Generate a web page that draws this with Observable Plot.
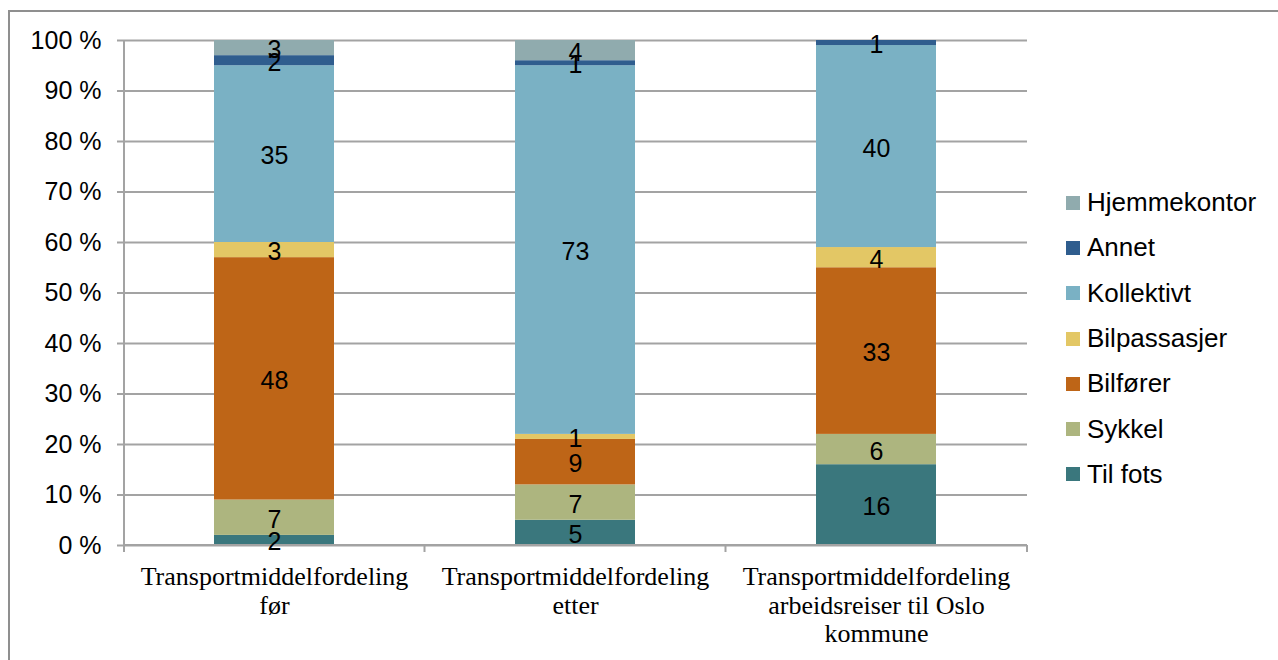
<!DOCTYPE html>
<html>
<head>
<meta charset="utf-8">
<script src="https://cdn.jsdelivr.net/npm/d3@7"></script>
<script src="https://cdn.jsdelivr.net/npm/@observablehq/plot@0.6"></script>
<style>
  html, body { margin: 0; padding: 0; background: #fff; }
  #wrap { position: relative; width: 1278px; height: 660px; overflow: hidden; background: #fff; }
  #border { position: absolute; left: 8px; top: 10px; width: 1400px; height: 800px; border: 2px solid #8f8f8f; box-sizing: border-box; }
  #chart { position: absolute; left: 0; top: 0; }
  #legend { position: absolute; left: 1066px; top: 180px; font-family: "Liberation Sans", Arial, sans-serif; font-size: 26px; color: #000; }
  #legend .row { display: flex; align-items: center; height: 45.3px; }
  #legend .sw { width: 14px; height: 14px; margin-right: 7px; }
</style>
</head>
<body>
<div id="wrap">
  <div id="border"></div>
  <div id="chart"></div>
  <div id="legend"></div>
</div>
<script>
// Categories (one stacked bar each)
const categories = [
  "Transportmiddelfordeling\nfør",
  "Transportmiddelfordeling\netter",
  "Transportmiddelfordeling\narbeidsreiser til Oslo\nkommune"
];

// Stack order, bottom to top
const seriesNames = ["Til fots", "Sykkel", "Bilfører", "Bilpassasjer", "Kollektivt", "Annet", "Hjemmekontor"];
const seriesColors = ["#3a777d", "#adb57f", "#be6517", "#e3c765", "#7ab1c4", "#2f5d8e", "#90abae"];

// Share (%) per category, one array per series
const tilFots      = [2, 5, 16];
const sykkel       = [7, 7, 6];
const bilforer     = [48, 9, 33];
const bilpassasjer = [3, 1, 4];
const kollektivt   = [35, 73, 40];
const annet        = [2, 1, 1];
const hjemmekontor = [3, 4, 0];

const yTicks = [0, 10, 20, 30, 40, 50, 60, 70, 80, 90, 100];

const seriesValues = [tilFots, sykkel, bilforer, bilpassasjer, kollektivt, annet, hjemmekontor];
const rows = seriesNames.flatMap((s, i) =>
  categories.map((c, j) => ({category: c, series: s, value: seriesValues[i][j]}))
);

const gridColor = "#a3a3a3";

// Axis lines: left axis, baseline and category separator ticks
function axisLines(index, scales, values, dim) {
  const x = scales.x;
  const l = dim.marginLeft, r = dim.width - dim.marginRight;
  const t = dim.marginTop, b = dim.height - dim.marginBottom;
  const bw = typeof x.bandwidth === "function" ? x.bandwidth() : (x.bandwidth ?? 0);
  const inner = d3.pairs(categories).map(([a, c]) => (x(a) + x(c) + bw) / 2);
  const bounds = [l, ...inner, r];
  const g = d3.create("svg:g").attr("stroke", gridColor).attr("stroke-width", 2).attr("fill", "none");
  g.append("line").attr("x1", l).attr("x2", l).attr("y1", t).attr("y2", b + 7);
  g.append("line").attr("x1", l).attr("x2", r).attr("y1", b).attr("y2", b);
  for (const bx of bounds) {
    g.append("line").attr("x1", bx).attr("x2", bx).attr("y1", b).attr("y2", b + 7);
  }
  return g.node();
}

const chart = Plot.plot({
  width: 1040,
  height: 660,
  marginLeft: 124,
  marginRight: 13,
  marginTop: 40,
  marginBottom: 115,
  style: {fontFamily: "'Liberation Sans', Arial, sans-serif", fontSize: "25px", color: "#000", background: "transparent"},
  x: {domain: categories, paddingInner: 0.6, paddingOuter: 0.3, axis: null},
  y: {domain: [0, 100], axis: null},
  color: {domain: seriesNames, range: seriesColors},
  marks: [
    Plot.ruleY(yTicks, {stroke: gridColor, strokeWidth: 2}),
    Plot.axisY({
      ticks: yTicks,
      tickSize: 7,
      tickPadding: 16,
      tickFormat: d => `${d} %`,
      stroke: gridColor,
      strokeWidth: 2,
      strokeOpacity: 1,
      fontSize: 25,
      label: null
    }),
    Plot.barY(rows, Plot.stackY({x: "category", y: "value", z: "series", fill: "series", order: seriesNames})),
    axisLines,
    Plot.text(rows.filter(d => d.value > 0), Plot.stackY({
      x: "category", y: "value", z: "series", order: seriesNames,
      text: d => String(d.value), fill: "#000", fontSize: 25, dy: 2
    })),
    Plot.text(categories, {
      x: d => d, text: d => d, frameAnchor: "bottom", lineAnchor: "top", dy: 20,
      fontFamily: "'Liberation Serif', 'Times New Roman', serif", fontSize: 26, lineHeight: 1.08, fill: "#000"
    })
  ]
});
document.getElementById("chart").appendChild(chart);

// Legend: reversed so the top entry matches the top of the stack
const legend = d3.select("#legend");
seriesNames.map((s, i) => ({s, c: seriesColors[i]})).reverse().forEach(({s, c}) => {
  const row = legend.append("div").attr("class", "row");
  row.append("div").attr("class", "sw").style("background", c);
  row.append("span").text(s);
});
</script>
</body>
</html>
